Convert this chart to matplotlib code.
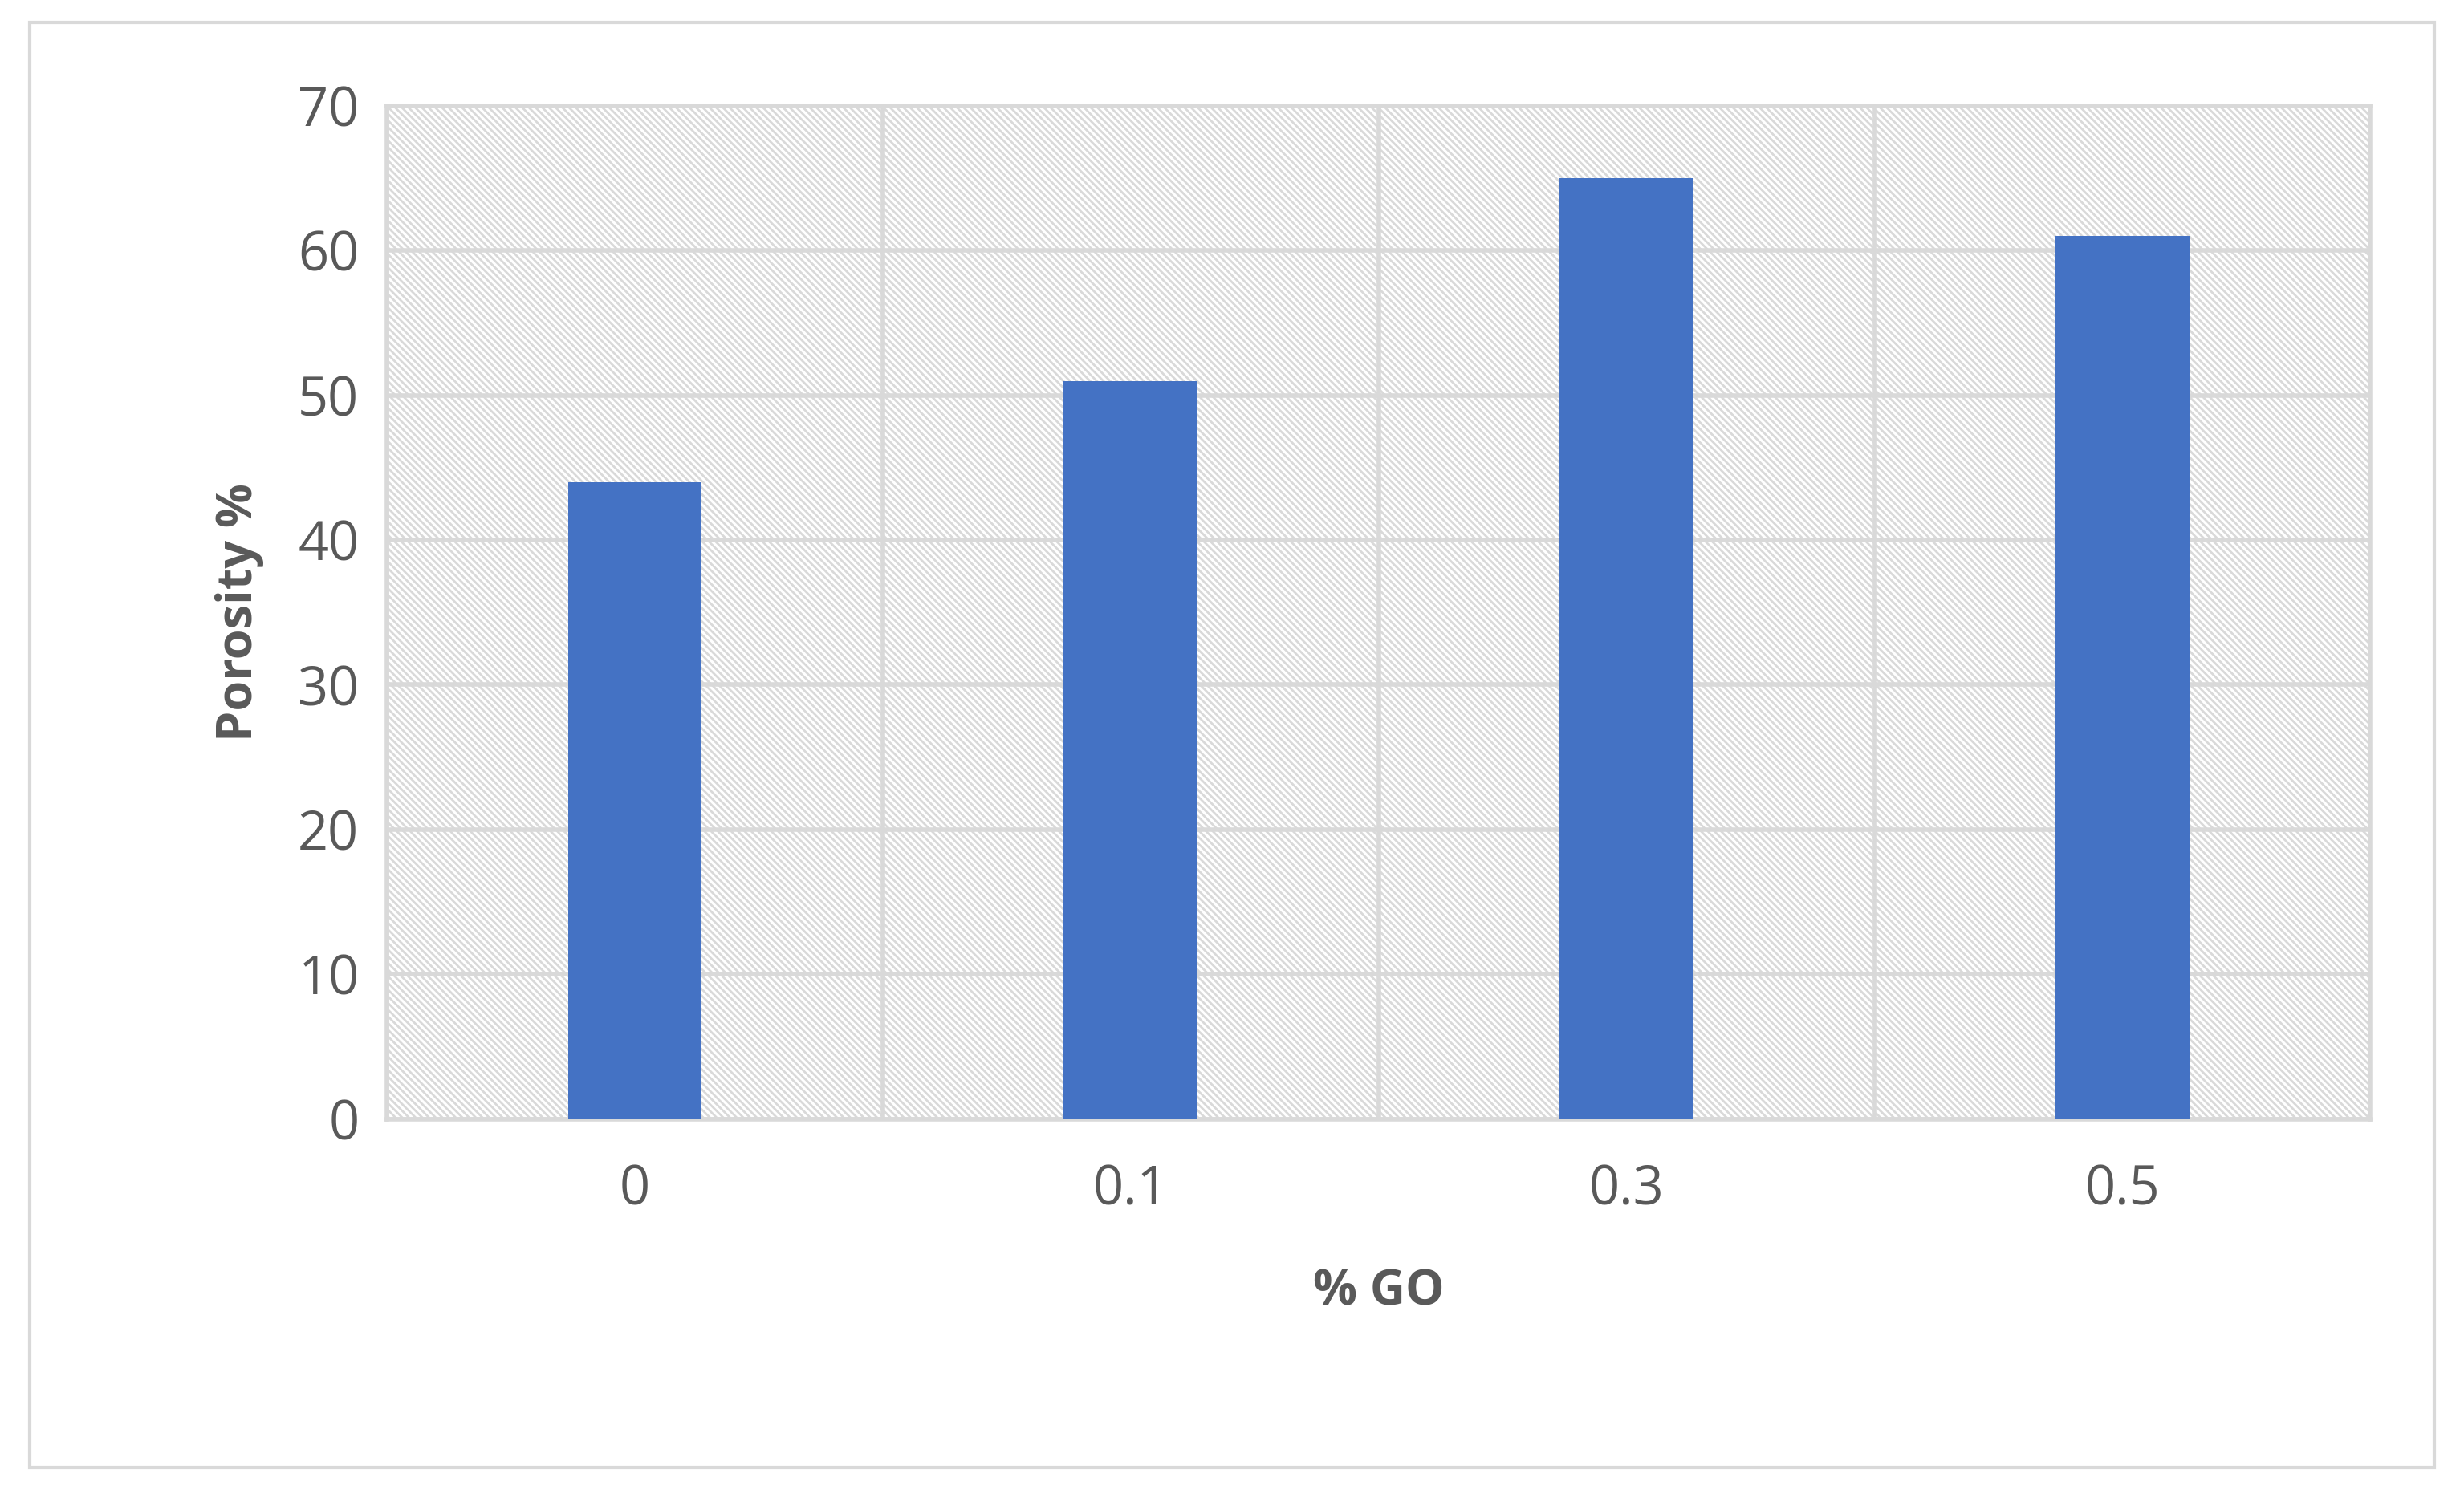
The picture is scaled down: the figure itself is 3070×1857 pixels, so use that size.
import matplotlib.pyplot as plt
import matplotlib as mpl

categories = ["0", "0.1", "0.3", "0.5"]
porosity = [44, 51, 65, 61]

mpl.rcParams['hatch.color'] = '#d9d9d9'
mpl.rcParams['hatch.linewidth'] = 2.0
plt.rcParams['font.family'] = ['Open Sans', 'DejaVu Sans']

fig = plt.figure(figsize=(30.7, 18.57), dpi=100)
fig.patches.append(plt.Rectangle((0.012, 0.015), 0.976, 0.97, transform=fig.transFigure,
                                 fill=False, edgecolor='#d9d9d9', linewidth=3))
ax = fig.add_axes([0.157, 0.249, 0.805, 0.68])

# hatched background
ax.add_patch(plt.Rectangle((0, 0), 1, 1, transform=ax.transAxes, facecolor='white',
                           edgecolor='#d9d9d9', hatch='\\\\\\\\', linewidth=0, zorder=0))

x = range(len(categories))
ax.bar(x, porosity, width=0.27, color='#4472c4', zorder=3)

ax.set_xlim(-0.5, len(categories) - 0.5)
ax.set_ylim(0, 70)
ax.set_yticks(range(0, 71, 10))
ax.set_xticks(list(x))
ax.set_xticklabels(categories)
ax.set_xticks([i - 0.5 for i in range(len(categories) + 1)], minor=True)
ax.grid(axis='y', color='#d9d9d9', linewidth=4, zorder=1)
ax.grid(axis='x', which='minor', color='#d9d9d9', linewidth=4, zorder=1)
ax.set_axisbelow(True)
for s in ax.spines.values():
    s.set_color('#d9d9d9')
    s.set_linewidth(4)
ax.tick_params(which='both', length=0, labelsize=48, colors='#595959', pad=40)
ax.tick_params(axis='y', pad=25)

ax.set_xlabel("% GO", fontsize=44, fontweight='bold', color='#595959', labelpad=45)
ax.set_ylabel("Porosity %", fontsize=44, fontweight='bold', color='#595959', labelpad=30)

fig.savefig("out.png", dpi=100)
